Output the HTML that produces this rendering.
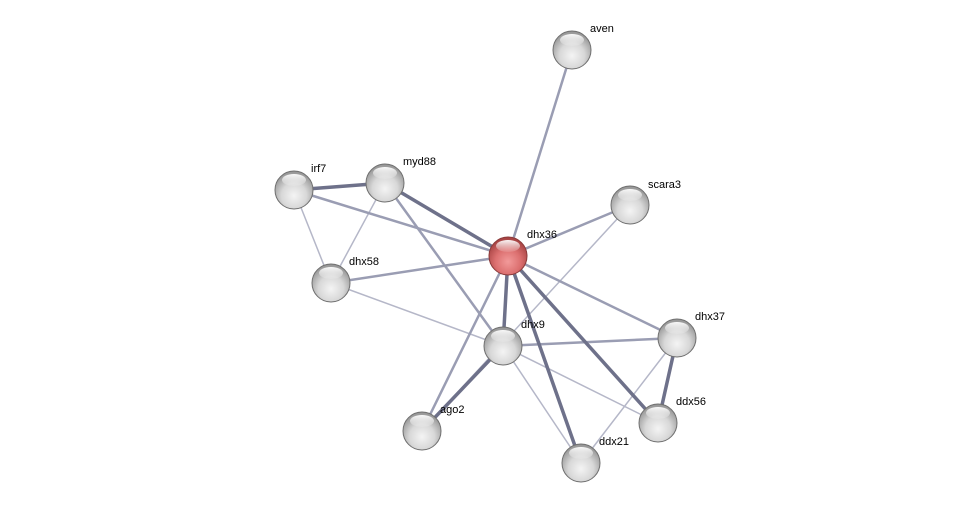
<!DOCTYPE html>
<html><head><meta charset="utf-8"><style>
html,body{margin:0;padding:0;background:#fff;}
svg{display:block}
text{font-family:"Liberation Sans",sans-serif;font-size:11px;fill:#000}
</style></head><body>
<svg width="975" height="508" viewBox="0 0 975 508">
<defs>
<radialGradient id="g" cx="50%" cy="65%" r="60%">
<stop offset="0" stop-color="#f4f4f4"/><stop offset="0.55" stop-color="#d8d8d8"/><stop offset="1" stop-color="#999"/>
</radialGradient>
<radialGradient id="r" cx="50%" cy="65%" r="60%">
<stop offset="0" stop-color="#f29a9a"/><stop offset="0.55" stop-color="#dc7070"/><stop offset="1" stop-color="#a84444"/>
</radialGradient>
<linearGradient id="hl" x1="0" y1="0" x2="0" y2="1">
<stop offset="0" stop-color="#fff" stop-opacity="0.95"/><stop offset="1" stop-color="#fff" stop-opacity="0.1"/>
</linearGradient>
</defs>
<g stroke-linecap="round">
<g stroke="#b5b7c8" stroke-width="1.5">
<line x1="294" y1="190" x2="331" y2="283"/>
<line x1="385" y1="183" x2="331" y2="283"/>
<line x1="331" y1="283" x2="503" y2="346"/>
<line x1="630" y1="205" x2="422" y2="431"/>
<line x1="503" y1="346" x2="581" y2="463"/>
<line x1="677" y1="338" x2="581" y2="463"/>
<line x1="503" y1="346" x2="658" y2="423"/>
</g>
<g stroke="#9a9db3" stroke-width="2.5">
<line x1="572" y1="50" x2="508" y2="256"/>
<line x1="630" y1="205" x2="508" y2="256"/>
<line x1="331" y1="283" x2="508" y2="256"/>
<line x1="294" y1="190" x2="508" y2="256"/>
<line x1="385" y1="183" x2="503" y2="346"/>
<line x1="508" y1="256" x2="422" y2="431"/>
<line x1="508" y1="256" x2="677" y2="338"/>
<line x1="503" y1="346" x2="677" y2="338"/>
</g>
<g stroke="#6e718a" stroke-width="3.5">
<line x1="294" y1="190" x2="385" y2="183"/>
<line x1="385" y1="183" x2="508" y2="256"/>
<line x1="508" y1="256" x2="503" y2="346"/>
<line x1="508" y1="256" x2="581" y2="463"/>
<line x1="508" y1="256" x2="658" y2="423"/>
<line x1="503" y1="346" x2="422" y2="431"/>
<line x1="677" y1="338" x2="658" y2="423"/>
</g>
</g>
<g stroke="#6f6f6f" stroke-width="1">
<circle cx="572" cy="50" r="19" fill="url(#g)"/>
<circle cx="294" cy="190" r="19" fill="url(#g)"/>
<circle cx="385" cy="183" r="19" fill="url(#g)"/>
<circle cx="630" cy="205" r="19" fill="url(#g)"/>
<circle cx="331" cy="283" r="19" fill="url(#g)"/>
<circle cx="677" cy="338" r="19" fill="url(#g)"/>
<circle cx="503" cy="346" r="19" fill="url(#g)"/>
<circle cx="658" cy="423" r="19" fill="url(#g)"/>
<circle cx="422" cy="431" r="19" fill="url(#g)"/>
<circle cx="581" cy="463" r="19" fill="url(#g)"/>
<circle cx="508" cy="256" r="19" fill="url(#r)" stroke="#8a3a3a"/>
</g>
<g fill="url(#hl)">
<ellipse cx="572" cy="40" rx="12" ry="6"/>
<ellipse cx="294" cy="180" rx="12" ry="6"/>
<ellipse cx="385" cy="173" rx="12" ry="6"/>
<ellipse cx="630" cy="195" rx="12" ry="6"/>
<ellipse cx="331" cy="273" rx="12" ry="6"/>
<ellipse cx="677" cy="328" rx="12" ry="6"/>
<ellipse cx="503" cy="336" rx="12" ry="6"/>
<ellipse cx="658" cy="413" rx="12" ry="6"/>
<ellipse cx="422" cy="421" rx="12" ry="6"/>
<ellipse cx="581" cy="453" rx="12" ry="6"/>
<ellipse cx="508" cy="246" rx="12" ry="6"/>
</g>
<text x="590" y="32">aven</text>
<text x="311" y="172">irf7</text>
<text x="403" y="165">myd88</text>
<text x="648" y="188">scara3</text>
<text x="527" y="238">dhx36</text>
<text x="349" y="265">dhx58</text>
<text x="695" y="320">dhx37</text>
<text x="521" y="328">dhx9</text>
<text x="676" y="405">ddx56</text>
<text x="440" y="413">ago2</text>
<text x="599" y="445">ddx21</text>
</svg>
</body></html>
